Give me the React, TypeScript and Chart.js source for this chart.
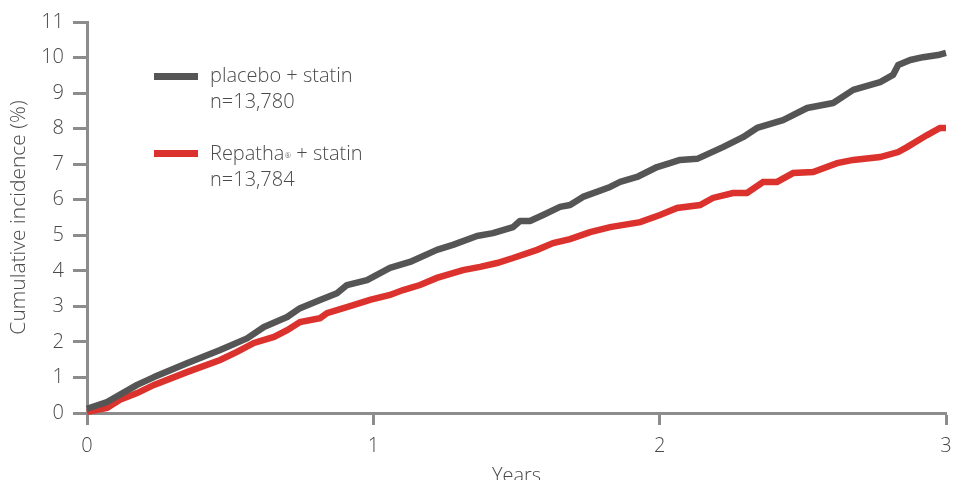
import React, { useEffect, useRef } from "react";
import { Chart, registerables } from "chart.js";

Chart.register(...registerables);

const placeboYears = [0, 0.07, 0.175, 0.234, 0.349, 0.465, 0.559, 0.618, 0.699, 0.744, 0.814, 0.873, 0.908, 0.978, 1.058, 1.128, 1.222, 1.278, 1.362, 1.418, 1.488, 1.512, 1.547, 1.593, 1.652, 1.687, 1.732, 1.827, 1.862, 1.921, 1.991, 2.036, 2.071, 2.131, 2.221, 2.291, 2.34, 2.431, 2.515, 2.606, 2.676, 2.77, 2.815, 2.833, 2.875, 2.92, 2.972, 3.0];
const placeboIncidence = [0.12, 0.31, 0.79, 1.01, 1.4, 1.77, 2.1, 2.42, 2.7, 2.95, 3.18, 3.37, 3.6, 3.74, 4.08, 4.25, 4.59, 4.73, 4.98, 5.06, 5.23, 5.4, 5.4, 5.57, 5.8, 5.85, 6.08, 6.36, 6.5, 6.64, 6.92, 7.03, 7.12, 7.15, 7.48, 7.76, 8.02, 8.24, 8.58, 8.72, 9.09, 9.31, 9.51, 9.79, 9.93, 10.01, 10.07, 10.13];

const repathaYears = [0, 0.07, 0.115, 0.175, 0.234, 0.349, 0.465, 0.524, 0.583, 0.653, 0.699, 0.744, 0.814, 0.838, 0.933, 0.988, 1.058, 1.104, 1.163, 1.222, 1.313, 1.373, 1.432, 1.488, 1.572, 1.628, 1.687, 1.757, 1.827, 1.932, 2.001, 2.061, 2.141, 2.186, 2.256, 2.305, 2.361, 2.41, 2.466, 2.536, 2.62, 2.676, 2.77, 2.833, 2.864, 2.892, 2.934, 2.979, 3.0];
const repathaIncidence = [0.03, 0.14, 0.37, 0.56, 0.79, 1.15, 1.49, 1.72, 1.97, 2.14, 2.33, 2.56, 2.67, 2.81, 3.04, 3.18, 3.32, 3.46, 3.6, 3.8, 4.02, 4.11, 4.22, 4.36, 4.59, 4.78, 4.89, 5.09, 5.23, 5.37, 5.57, 5.77, 5.85, 6.05, 6.19, 6.19, 6.5, 6.5, 6.75, 6.78, 7.03, 7.12, 7.2, 7.34, 7.48, 7.62, 7.82, 8.02, 8.02];

const seriesNames = ["placebo + statin", "Repatha"];
const seriesCounts = ["n=13,780", "n=13,784"];
const xTitle = "Years";
const yTitle = "Cumulative incidence (%)";

const GRAY = "#555555";
const RED = "#dc322d";
const AXIS = "#8c8c8c";
const TEXT = "#4a4a4a";
const FONT = "'Open Sans', Lato, sans-serif";

export default function App() {
  const canvasRef = useRef<HTMLCanvasElement | null>(null);

  useEffect(() => {
    const canvas = canvasRef.current;
    if (!canvas) return;
    const chart = new Chart(canvas, {
      type: "line",
      data: {
        datasets: [
          {
            label: seriesNames[0],
            data: placeboYears.map((x, i) => ({ x, y: placeboIncidence[i] })),
            borderColor: GRAY,
            backgroundColor: GRAY,
            borderWidth: 6.5,
            pointRadius: 0,
            tension: 0,
            borderCapStyle: "butt",
            borderJoinStyle: "round",
            clip: false,
          },
          {
            label: seriesNames[1],
            data: repathaYears.map((x, i) => ({ x, y: repathaIncidence[i] })),
            borderColor: RED,
            backgroundColor: RED,
            borderWidth: 6.5,
            pointRadius: 0,
            tension: 0,
            borderCapStyle: "butt",
            borderJoinStyle: "miter",
            clip: false,
          },
        ],
      },
      options: {
        animation: false,
        responsive: true,
        maintainAspectRatio: false,
        layout: { padding: { top: 22, right: 7, left: 0, bottom: 0 } },
        plugins: { legend: { display: false }, tooltip: { enabled: false } },
        scales: {
          x: {
            type: "linear",
            min: 0,
            max: 3,
            ticks: {
              stepSize: 1,
              color: TEXT,
              padding: 9,
              font: { family: FONT, size: 20, weight: "300" as any },
            },
            grid: {
              drawOnChartArea: false,
              drawTicks: true,
              tickLength: 12,
              tickWidth: 3,
              tickColor: AXIS,
            },
            border: { display: true, color: AXIS, width: 3 },
            title: {
              display: true,
              text: xTitle,
              color: TEXT,
              font: { family: FONT, size: 20, weight: "300" as any },
              padding: { top: 0, bottom: 2 },
            },
            afterFit: (scale: any) => {
              scale.height = 77;
              scale.paddingLeft = 0;
              scale.paddingRight = 0;
            },
          },
          y: {
            min: 0,
            max: 11,
            ticks: {
              stepSize: 1,
              color: TEXT,
              padding: 9,
              font: { family: FONT, size: 20, weight: "300" as any },
            },
            grid: {
              drawOnChartArea: false,
              drawTicks: true,
              tickLength: 14,
              tickWidth: 3,
              tickColor: AXIS,
            },
            border: { display: true, color: AXIS, width: 3 },
            title: {
              display: true,
              text: yTitle,
              color: TEXT,
              font: { family: FONT, size: 21, weight: "300" as any },
              padding: { top: 6, bottom: 0 },
            },
            afterFit: (scale: any) => {
              scale.width = 87;
              scale.paddingTop = 0;
              scale.paddingBottom = 0;
            },
          },
        },
      },
    });
    return () => chart.destroy();
  }, []);

  const textStyle: React.CSSProperties = {
    position: "absolute",
    left: 210,
    fontFamily: FONT,
    fontWeight: 300,
    fontSize: 20,
    lineHeight: "26px",
    color: TEXT,
    whiteSpace: "nowrap",
  };
  const swatch = (top: number, color: string): React.CSSProperties => ({
    position: "absolute",
    left: 154,
    top,
    width: 44,
    height: 7,
    background: color,
  });

  return (
    <div style={{ position: "fixed", left: 0, top: 0, width: 953, height: 490, background: "#fff" }}>
      <canvas ref={canvasRef} />
      <div style={swatch(73, GRAY)} />
      <div style={{ ...textStyle, top: 62 }}>
        <div>{seriesNames[0]}</div>
        <div>{seriesCounts[0]}</div>
      </div>
      <div style={swatch(150, RED)} />
      <div style={{ ...textStyle, top: 140 }}>
        <div>
          {seriesNames[1]}
          <sup style={{ fontSize: 8, verticalAlign: "top", position: "relative", top: 2 }}>®</sup> + statin
        </div>
        <div>{seriesCounts[1]}</div>
      </div>
    </div>
  );
}
